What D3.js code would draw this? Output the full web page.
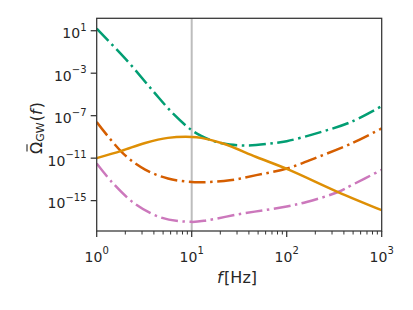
<!DOCTYPE html>
<html>
<head>
<meta charset="utf-8">
<script src="https://cdn.jsdelivr.net/npm/d3@7"></script>
<style>
  body { margin: 0; background: #fff; }
  text { font-family: "DejaVu Sans", sans-serif; fill: #262626; }
</style>
</head>
<body>
<div id="chart"></div>
<script>
// values, as log10(f / Hz) and log10(Omega)
const greenLogF  = [0, 0.33, 0.6, 0.81, 1.0, 1.1, 1.25, 1.4, 1.6, 1.8, 2.0, 2.33, 2.68, 3.0];
const greenLogY  = [1.2, -1.92, -4.75, -6.86, -8.37, -8.9, -9.45, -9.72, -9.8, -9.65, -9.4, -8.62, -7.58, -6.1];
const redLogF    = [0, 0.28, 0.51, 0.75, 1.0, 1.1, 1.4, 1.68, 2.0, 2.33, 2.68, 3.0];
const redLogY    = [-7.6, -10.57, -12.08, -12.92, -13.25, -13.27, -13.09, -12.6, -11.98, -10.89, -9.62, -8.2];
const pinkLogF   = [0, 0.16, 0.4, 0.68, 1.0, 1.16, 1.51, 1.75, 2.0, 2.21, 2.54, 2.68, 3.0];
const pinkLogY   = [-11.5, -13.25, -15.28, -16.6, -17.0, -16.86, -16.25, -15.92, -15.55, -15.13, -14.19, -13.56, -12.1];
const orangeLogF = [0, 0.26, 0.51, 0.75, 1.0, 1.1, 1.33, 1.68, 2.02, 2.54, 3.0];
const orangeLogY = [-11.0, -10.32, -9.57, -9.09, -9.0, -9.09, -9.62, -10.89, -12.08, -14.19, -15.9];

const xTicks = [1, 10, 100, 1000];
const xTickExp = ["0", "1", "2", "3"];
const yTicks = [1e1, 1e-3, 1e-7, 1e-11, 1e-15];
const yTickExp = ["1", "\u22123", "\u22127", "\u221211", "\u221215"];
const refFreq = 10;

const W = 413, H = 310;
const box = { left: 96.7, right: 381.7, top: 18.3, bottom: 231 };

const svg = d3.select("#chart").append("svg")
    .attr("width", W)
    .attr("height", H);

const x = d3.scaleLog().domain([1, 1000]).range([box.left, box.right]);
const y = d3.scaleLog().domain([Math.pow(10, -17.86), Math.pow(10, 2.17)]).range([box.bottom, box.top]);

svg.append("clipPath").attr("id", "clip")
  .append("rect")
    .attr("x", box.left).attr("y", box.top)
    .attr("width", box.right - box.left).attr("height", box.bottom - box.top);

// vertical reference line at 10 Hz
svg.append("line")
    .attr("x1", x(refFreq)).attr("x2", x(refFreq))
    .attr("y1", box.top).attr("y2", box.bottom)
    .style("stroke", "#bdbdbd")
    .style("stroke-width", 2);

const line = d3.line()
    .x(d => x(d[0]))
    .y(d => y(d[1]))
    .curve(d3.curveCatmullRom.alpha(0.5));

const series = [
    { lf: greenLogF,  ly: greenLogY,  color: "#029E73", dash: "17,4.5,2.5,4.5" },
    { lf: redLogF,    ly: redLogY,    color: "#D55E00", dash: "17,4.5,2.5,4.5" },
    { lf: pinkLogF,   ly: pinkLogY,   color: "#CC78BC", dash: "17,4.5,2.5,4.5" },
    { lf: orangeLogF, ly: orangeLogY, color: "#DE8F05", dash: null }
];

const plot = svg.append("g").attr("clip-path", "url(#clip)");
series.forEach(s => {
    const pts = s.lf.map((v, i) => [Math.pow(10, v), Math.pow(10, s.ly[i])]);
    plot.append("path")
        .attr("d", line(pts))
        .style("fill", "none")
        .style("stroke", s.color)
        .style("stroke-width", 2.5)
        .style("stroke-dasharray", s.dash);
});

// frame
svg.append("rect")
    .attr("x", box.left).attr("y", box.top)
    .attr("width", box.right - box.left).attr("height", box.bottom - box.top)
    .style("fill", "none")
    .style("stroke", "#333")
    .style("stroke-width", 1.25);

// x axis ticks (major + minor)
const minorX = [];
for (let d = 1; d < 1000; d *= 10) for (let k = 2; k < 10; k++) minorX.push(d * k);
const xAxis = svg.append("g");
xAxis.selectAll("line.minor").data(minorX).enter().append("line")
    .attr("x1", d => x(d)).attr("x2", d => x(d))
    .attr("y1", box.bottom).attr("y2", box.bottom + 3.5)
    .style("stroke", "#333").style("stroke-width", 1);
xAxis.selectAll("line.major").data(xTicks).enter().append("line")
    .attr("x1", d => x(d)).attr("x2", d => x(d))
    .attr("y1", box.bottom).attr("y2", box.bottom + 6)
    .style("stroke", "#333").style("stroke-width", 1.25);
const xt = xAxis.selectAll("text").data(xTicks).enter().append("text")
    .attr("x", d => x(d))
    .attr("y", 261.5)
    .attr("text-anchor", "middle")
    .style("font-size", "14px");
xt.append("tspan").text("10");
xt.append("tspan").attr("dy", -7.5).style("font-size", "10px").text((d, i) => xTickExp[i]);

// y axis ticks
const yAxis = svg.append("g");
yAxis.selectAll("line").data(yTicks).enter().append("line")
    .attr("x1", box.left - 6).attr("x2", box.left)
    .attr("y1", d => y(d)).attr("y2", d => y(d))
    .style("stroke", "#333").style("stroke-width", 1.25);
const yt = yAxis.selectAll("text").data(yTicks).enter().append("text")
    .attr("x", 86.5)
    .attr("y", d => y(d) + 7.6)
    .attr("text-anchor", "end")
    .style("font-size", "14px");
yt.append("tspan").text("10");
yt.append("tspan").attr("dy", -7.5).style("font-size", "10px").text((d, i) => yTickExp[i]);

// axis labels
const xl = svg.append("text")
    .attr("x", 237)
    .attr("y", 283)
    .attr("text-anchor", "middle")
    .style("font-size", "16px");
xl.append("tspan").style("font-style", "italic").text("f");
xl.append("tspan").attr("dx", 1.5).text("[Hz]");

const ylg = svg.append("g")
    .attr("transform", "translate(41.5,128) rotate(-90)");
const yl = ylg.append("text")
    .attr("text-anchor", "middle")
    .style("font-size", "16px");
yl.append("tspan").text("\u03A9");
yl.append("tspan").attr("dy", 2.5).style("font-size", "11px").text("GW");
yl.append("tspan").attr("dy", -2.5).attr("dx", 1).text("(");
yl.append("tspan").style("font-style", "italic").text("f");
yl.append("tspan").attr("dx", 1).text(")");

// bar over the Omega
const om = yl.node().getExtentOfChar(0);
ylg.append("line")
    .attr("x1", om.x + 2.5).attr("x2", om.x + om.width - 2.5)
    .attr("y1", -14.5).attr("y2", -14.5)
    .style("stroke", "#262626")
    .style("stroke-width", 1.1);
</script>
</body>
</html>
